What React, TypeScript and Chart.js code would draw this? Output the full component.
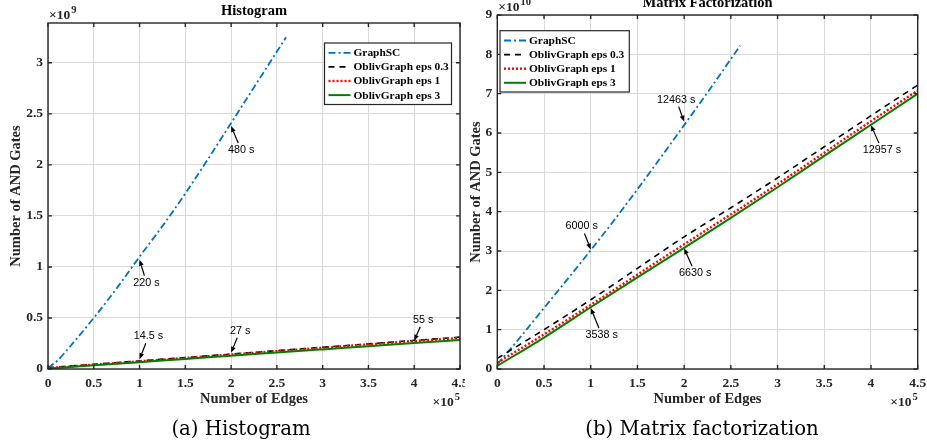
import React, { useEffect, useRef } from 'react';
import { Chart, registerables } from 'chart.js';

Chart.register(...registerables);

const SERIF = '"Liberation Serif", "Times New Roman", serif';
const SANS = '"Liberation Sans", Arial, sans-serif';
const CAPTION = '"DejaVu Serif", serif';

// ---------- DATA ----------
const seriesLabels = ['GraphSC', 'OblivGraph eps 0.3', 'OblivGraph eps 1', 'OblivGraph eps 3'];

// (a) Histogram: x in 1e5 edges, y in 1e9 AND gates
const histGraphscEdges = [0, 0.1, 0.25, 0.5, 0.75, 1, 1.25, 1.5, 1.75, 2, 2.25, 2.5, 2.6];
const histGraphscGates = [0.01, 0.08, 0.23, 0.5, 0.79, 1.1, 1.4, 1.72, 2.06, 2.41, 2.76, 3.11, 3.25];
const histOblivEdges = [0, 0.5, 1, 1.5, 2, 2.5, 3, 3.5, 4, 4.5];
const histEps03 = [0.012, 0.046, 0.079, 0.112, 0.146, 0.18, 0.213, 0.246, 0.28, 0.312];
const histEps1 = [0.009, 0.042, 0.075, 0.108, 0.142, 0.175, 0.208, 0.241, 0.274, 0.304];
const histEps3 = [0.004, 0.036, 0.067, 0.098, 0.13, 0.161, 0.192, 0.223, 0.255, 0.285];
const histAnnotations = [
  { x: 1, y: 1.07, text: '220 s', dx: 7, dy: 23 },
  { x: 2, y: 2.38, text: '480 s', dx: 10, dy: 24 },
  { x: 1, y: 0.095, text: '14.5 s', dx: 9, dy: -23 },
  { x: 2, y: 0.16, text: '27 s', dx: 9, dy: -22 },
  { x: 4, y: 0.277, text: '55 s', dx: 9, dy: -21 },
];

// (b) Matrix factorization: x in 1e5 edges, y in 1e10 AND gates
const mfGraphscEdges = [0, 0.25, 0.5, 0.75, 1, 1.25, 1.5, 1.75, 2, 2.25, 2.5, 2.6];
const mfGraphscGates = [0.12, 0.82, 1.55, 2.28, 3.02, 3.78, 4.57, 5.38, 6.2, 7.03, 7.88, 8.22];
const mfOblivEdges = [0, 0.5, 1, 1.5, 2, 2.5, 3, 3.5, 4, 4.5];
const mfEps03 = [0.27, 1.0, 1.76, 2.56, 3.36, 4.1, 4.86, 5.65, 6.44, 7.22];
const mfEps1 = [0.16, 0.88, 1.63, 2.4, 3.17, 3.93, 4.7, 5.5, 6.3, 7.08];
const mfEps3 = [0.08, 0.8, 1.57, 2.33, 3.08, 3.84, 4.62, 5.42, 6.21, 7.0];
const mfAnnotations = [
  { x: 2, y: 6.29, text: '12463 s', dx: -8, dy: -22 },
  { x: 1, y: 3.04, text: '6000 s', dx: -9, dy: -23 },
  { x: 1, y: 1.55, text: '3538 s', dx: 11, dy: 27 },
  { x: 2, y: 3.07, text: '6630 s', dx: 11, dy: 25 },
  { x: 4, y: 6.2, text: '12957 s', dx: 11, dy: 25 },
];

// ---------- STYLES ----------
const lineStyles = [
  { color: '#0072BD', dash: [7, 3, 2, 3], width: 1.8 },
  { color: '#000000', dash: [6, 5], width: 1.6 },
  { color: '#FF0000', dash: [2, 2], width: 2.4 },
  { color: '#008000', dash: [] as number[], width: 2 },
];

function makeDataset(i: number, xs: number[], ys: number[]) {
  const s = lineStyles[i];
  return {
    label: seriesLabels[i],
    data: xs.map((x, k) => ({ x, y: ys[k] })),
    borderColor: s.color,
    backgroundColor: s.color,
    borderDash: s.dash,
    borderWidth: s.width,
    pointRadius: 0,
    fill: false,
    cubicInterpolationMode: 'monotone',
    order: 3 - i,
  };
}

type Spec = {
  title: string;
  yExp: string;
  yMax: number;
  yStep: number;
  yAxisWidth: number;
  padTop: number;
  padRight: number;
  yTitleX: number;
  legend: { dxFromLeft?: number; dxFromRight?: number; dy: number; w: number; h: number };
  annotations: { x: number; y: number; text: string; dx: number; dy: number }[];
  datasets: any[];
};

function drawExp(ctx: CanvasRenderingContext2D, base: string, exp: string, x: number, y: number, align: 'left' | 'right') {
  ctx.save();
  ctx.fillStyle = '#262626';
  ctx.textBaseline = 'alphabetic';
  ctx.font = `bold 13.5px ${SERIF}`;
  const bw = ctx.measureText(base).width;
  ctx.font = `bold 10.5px ${SERIF}`;
  const ew = ctx.measureText(exp).width;
  const x0 = align === 'left' ? x : x - bw - ew - 1;
  ctx.textAlign = 'left';
  ctx.font = `bold 13.5px ${SERIF}`;
  ctx.fillText(base, x0, y);
  ctx.font = `bold 10.5px ${SERIF}`;
  ctx.fillText(exp, x0 + bw + 1, y - 6);
  ctx.restore();
}

function makeDecor(spec: Spec) {
  return {
    id: 'decor',
    afterDraw(chart: any) {
      const { ctx, chartArea: a, scales } = chart;
      const xs = scales.x;
      const ys = scales.y;
      ctx.save();

      // annotations
      ctx.strokeStyle = '#000';
      ctx.fillStyle = '#000';
      ctx.lineWidth = 1.2;
      ctx.font = `10.8px ${SANS}`;
      ctx.textAlign = 'center';
      ctx.textBaseline = 'middle';
      for (const an of spec.annotations) {
        const px = xs.getPixelForValue(an.x);
        const py = ys.getPixelForValue(an.y);
        const f = (Math.abs(an.dy) - 7) / Math.abs(an.dy);
        const sx = px + an.dx * f;
        const sy = py + an.dy * f;
        const ang = Math.atan2(py - sy, px - sx);
        const hl = 6;
        const hw = 2.4;
        const bx = px - hl * Math.cos(ang);
        const by = py - hl * Math.sin(ang);
        ctx.beginPath();
        ctx.moveTo(sx, sy);
        ctx.lineTo(bx, by);
        ctx.stroke();
        ctx.beginPath();
        ctx.moveTo(px, py);
        ctx.lineTo(bx + hw * Math.sin(ang), by - hw * Math.cos(ang));
        ctx.lineTo(bx - hw * Math.sin(ang), by + hw * Math.cos(ang));
        ctx.closePath();
        ctx.fill();
        ctx.fillText(an.text, px + an.dx, py + an.dy);
      }

      // box
      ctx.strokeStyle = '#262626';
      ctx.lineWidth = 1.4;
      ctx.strokeRect(a.left, a.top, a.right - a.left, a.bottom - a.top);
      // inward tick marks
      ctx.beginPath();
      for (const t of xs.ticks) {
        const px = xs.getPixelForValue(t.value);
        ctx.moveTo(px, a.bottom);
        ctx.lineTo(px, a.bottom - 4);
        ctx.moveTo(px, a.top);
        ctx.lineTo(px, a.top + 4);
      }
      for (const t of ys.ticks) {
        const py = ys.getPixelForValue(t.value);
        ctx.moveTo(a.left, py);
        ctx.lineTo(a.left + 4, py);
        ctx.moveTo(a.right, py);
        ctx.lineTo(a.right - 4, py);
      }
      ctx.stroke();

      // legend
      const L = spec.legend;
      const lx = L.dxFromLeft !== undefined ? a.left + L.dxFromLeft : a.right - (L.dxFromRight as number) - L.w;
      const ly = a.top + L.dy;
      ctx.fillStyle = '#fff';
      ctx.fillRect(lx, ly, L.w, L.h);
      ctx.strokeStyle = '#262626';
      ctx.lineWidth = 1.2;
      ctx.strokeRect(lx, ly, L.w, L.h);
      ctx.font = `bold 11.4px ${SERIF}`;
      ctx.textAlign = 'left';
      ctx.textBaseline = 'middle';
      chart.data.datasets.forEach((d: any, i: number) => {
        const ry = ly + 9.8 + i * 14.1;
        ctx.strokeStyle = d.borderColor;
        ctx.lineWidth = d.borderWidth;
        ctx.setLineDash(d.borderDash);
        ctx.beginPath();
        ctx.moveTo(lx + 4, ry);
        ctx.lineTo(lx + 26, ry);
        ctx.stroke();
        ctx.setLineDash([]);
        ctx.fillStyle = '#000';
        ctx.fillText(d.label, lx + 29, ry + 0.5);
      });

      // title
      ctx.fillStyle = '#000';
      ctx.font = `bold 14.5px ${SERIF}`;
      ctx.textAlign = 'center';
      ctx.textBaseline = 'middle';
      ctx.fillText(spec.title, (a.left + a.right) / 2, a.top - 11.5);

      // axis titles
      ctx.fillStyle = '#262626';
      ctx.fillText('Number of Edges', (a.left + a.right) / 2, a.bottom + 30);
      ctx.save();
      ctx.translate(spec.yTitleX, (a.top + a.bottom) / 2);
      ctx.rotate(-Math.PI / 2);
      ctx.fillText('Number of AND Gates', 0, 0);
      ctx.restore();

      // exponents
      drawExp(ctx, '\u00d710', spec.yExp, a.left + 1, a.top - 4, 'left');
      drawExp(ctx, '\u00d710', '5', a.right, a.bottom + 37, 'right');

      ctx.restore();
    },
  };
}

function buildConfig(spec: Spec) {
  const tickFont = { family: SERIF, weight: 'bold' as const, size: 13.5 };
  const fmt = (v: any) => String(+Number(v).toFixed(3));
  return {
    type: 'line' as const,
    data: { datasets: spec.datasets },
    options: {
      responsive: false,
      animation: false as const,
      events: [],
      layout: { padding: { top: spec.padTop, right: spec.padRight, left: 0, bottom: 0 } },
      plugins: { legend: { display: false }, tooltip: { enabled: false }, title: { display: false } },
      scales: {
        x: {
          type: 'linear' as const,
          min: 0,
          max: 4.5,
          ticks: { stepSize: 0.5, padding: 6, color: '#262626', font: tickFont, callback: fmt, maxRotation: 0, autoSkip: false },
          grid: { color: '#d9d9d9', lineWidth: 1, drawTicks: false },
          border: { display: false },
          afterFit: (s: any) => {
            s.height = 77;
            s.paddingLeft = 0;
            s.paddingRight = 0;
          },
        },
        y: {
          type: 'linear' as const,
          min: 0,
          max: spec.yMax,
          afterBuildTicks: (s: any) => {
            s.ticks = s.ticks.filter((t: any) => Math.abs(t.value / spec.yStep - Math.round(t.value / spec.yStep)) < 1e-6);
          },
          ticks: { stepSize: spec.yStep, padding: 5, color: '#262626', font: tickFont, callback: fmt, autoSkip: false },
          grid: { color: '#d9d9d9', lineWidth: 1, drawTicks: false },
          border: { display: false },
          afterFit: (s: any) => {
            s.width = spec.yAxisWidth;
            s.paddingTop = 0;
            s.paddingBottom = 0;
          },
        },
      },
    },
    plugins: [makeDecor(spec)],
  };
}

const histSpec: Spec = {
  title: 'Histogram',
  yExp: '9',
  yMax: 3.39,
  yStep: 0.5,
  yAxisWidth: 48,
  padTop: 23,
  padRight: 5,
  yTitleX: 16,
  legend: { dxFromRight: 8.5, dy: 20, w: 127, h: 61.5 },
  annotations: histAnnotations,
  datasets: [
    makeDataset(0, histGraphscEdges, histGraphscGates),
    makeDataset(1, histOblivEdges, histEps03),
    makeDataset(2, histOblivEdges, histEps1),
    makeDataset(3, histOblivEdges, histEps3),
  ],
};

const mfSpec: Spec = {
  title: 'Matrix Factorization',
  yExp: '10',
  yMax: 9,
  yStep: 1,
  yAxisWidth: 32.3,
  padTop: 15,
  padRight: 9.3,
  yTitleX: 11,
  legend: { dxFromLeft: 2.7, dy: 15.7, w: 129.3, h: 61.3 },
  annotations: mfAnnotations,
  datasets: [
    makeDataset(0, mfGraphscEdges, mfGraphscGates),
    makeDataset(1, mfOblivEdges, mfEps03),
    makeDataset(2, mfOblivEdges, mfEps1),
    makeDataset(3, mfOblivEdges, mfEps3),
  ],
};

function Panel({ spec, left, width }: { spec: Spec; left: number; width: number }) {
  const ref = useRef<HTMLCanvasElement | null>(null);
  useEffect(() => {
    if (!ref.current) return;
    const chart = new Chart(ref.current, buildConfig(spec) as any);
    return () => chart.destroy();
  }, [spec]);
  return (
    <canvas
      ref={ref}
      width={width}
      height={446}
      style={{ position: 'absolute', left, top: 0, width, height: 446 }}
    />
  );
}

export default function App() {
  useEffect(() => {
    document.body.style.margin = '0';
  }, []);
  const cap: React.CSSProperties = {
    position: 'absolute',
    top: 416.5,
    width: 400,
    textAlign: 'center',
    fontFamily: CAPTION,
    fontSize: 19.7,
    lineHeight: '24px',
    color: '#000',
    whiteSpace: 'nowrap',
  };
  return (
    <div style={{ position: 'fixed', left: 0, top: 0, width: 927, height: 446, background: '#fff', overflow: 'hidden' }}>
      <Panel spec={histSpec} left={0} width={465} />
      <Panel spec={mfSpec} left={465} width={462} />
      <div style={{ ...cap, left: 241 - 200 }}>(a) Histogram</div>
      <div style={{ ...cap, left: 702 - 200 }}>(b) Matrix factorization</div>
    </div>
  );
}
